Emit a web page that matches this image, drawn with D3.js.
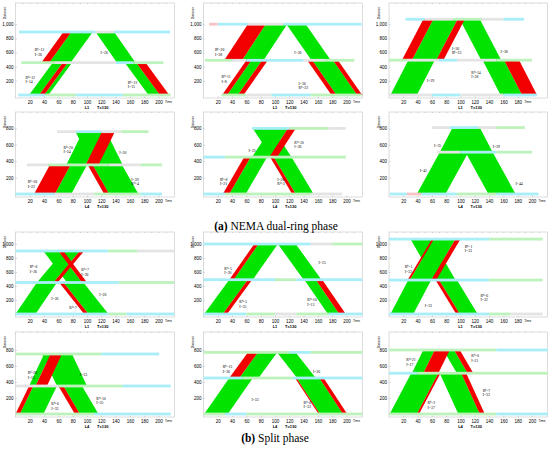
<!DOCTYPE html>
<html>
<head>
<meta charset="utf-8">
<script src="https://cdn.jsdelivr.net/npm/d3@7"></script>
<style>
  body { margin: 0; background: #fff; }
  svg { display: block; }
</style>
</head>
<body>
<svg id="fig" width="550" height="450"></svg>
<script>
// bands: [fromDist, toDist, startTime, endTime, travelTime, colour]  (m, s)
var bandsP1 = [[0,457,19,33,33,"g"],[0,457,33,40,33,"r"],[0,457,40,46,33,"g"],[457,890,36,47,31,"r"],[457,890,47,77,31,"g"],[890,457,112,138,30,"g"],[457,0,153,169,33,"g"],[457,0,169,182,33,"r"]];
var bandsP2 = [[0,490,26,33,34,"r"],[0,490,33,48,34,"g"],[0,490,48,56,34,"r"],[490,1000,29,54,33,"r"],[490,1000,54,84,33,"g"],[1000,490,116,143,35,"g"],[490,0,145,152,34,"r"],[490,0,152,181,34,"g"],[490,0,181,188,34,"r"]];
var bandsP3 = [[0,492,2,39,25,"g"],[492,1070,18,32,30,"r"],[492,1070,32,66,30,"g"],[492,1070,66,76,30,"r"],[1070,492,99,127,30,"g"],[492,0,131,161,25,"g"],[492,0,161,182,25,"r"]];
var bandsP4 = [[0,355,26,55,22,"r"],[0,355,55,78,22,"g"],[355,760,71,98,23,"g"],[355,760,98,116,23,"r"],[760,355,84,127,23,"g"],[355,0,101,108,23,"r"],[355,0,108,149,23,"g"]];
var bandsP5 = [[0,450,27,36,30,"r"],[0,450,36,59,30,"g"],[450,0,93,98,31,"r"],[450,0,98,123,31,"g"],[450,800,68,92,26,"g"],[450,800,92,103,26,"r"],[800,450,69,97,26,"g"]];
var bandsP6 = [[0,510,39,79,32,"g"],[510,810,71,111,18,"g"],[810,510,89,127,18,"g"],[510,0,107,145,32,"g"]];
var bandsP7 = [[0,450,0,28,30,"g"],[450,900,30,53,37,"g"],[450,900,53,59,37,"r"],[900,450,39,60,33,"g"],[900,450,60,67,33,"r"],[450,0,61,67,35,"r"],[450,0,67,95,35,"g"]];
var bandsP8 = [[0,490,1,27,35,"g"],[0,490,27,33,35,"r"],[490,1000,36,42,35,"r"],[490,1000,42,69,35,"g"],[1000,490,104,129,36,"g"],[490,0,141,157,33,"g"],[490,0,157,166,33,"r"]];
var bandsP9 = [[0,485,2,34,25,"g"],[485,1070,26,29,34,"r"],[485,1070,29,59,34,"g"],[485,1070,59,66,34,"r"],[1070,485,30,60,33,"g"],[485,0,65,70,29,"r"],[485,0,70,95,29,"g"]];
var bandsP10 = [[0,350,0,6,19,"r"],[0,350,6,39,19,"g"],[350,750,19,28,21,"g"],[350,750,28,44,21,"r"],[750,350,37,79,21,"g"],[350,0,60,67,23,"r"],[350,0,67,93,23,"g"]];
var bandsP11 = [[450,770,36,50,26,"r"],[450,770,50,77,26,"g"],[770,450,103,129,28,"g"],[0,450,1,34,35,"g"],[450,0,128,130,33,"r"],[450,0,130,162,33,"g"],[450,0,162,168,33,"r"]];
var bandsP12 = [[0,510,1,39,30,"g"],[0,510,39,42,30,"r"],[510,800,32,48,16,"g"],[510,800,48,69,16,"r"],[800,510,76,91,19,"g"],[800,510,91,99,19,"r"],[510,0,71,101,26,"g"],[510,0,101,108,26,"r"]];

// signal strips at each intersection: [dist, fromTime, toTime, colour]
var stripsP1 = [[890,5,112,"c"],[890,112,138,"l"],[890,138,216,"c"],[457,8,55,"g"],[457,55,140,"l"],[457,140,165,"c"],[457,165,207,"g"],[0,4,42,"c"],[0,42,85,"g"],[0,85,150,"c"],[0,150,217,"g"]];
var stripsP2 = [[1000,8,20,"p"],[1000,20,62,"c"],[1000,62,112,"l"],[1000,112,221,"c"],[490,2,40,"g"],[490,40,60,"l"],[490,60,140,"c"],[490,140,170,"l"],[490,170,211,"g"],[0,25,60,"g"],[0,60,95,"l"],[0,95,150,"c"],[0,150,221,"g"]];
var stripsP3 = [[1070,23,50,"c"],[1070,50,90,"l"],[1070,90,130,"g"],[1070,130,160,"l"],[1070,160,189,"c"],[492,0,25,"g"],[492,25,70,"l"],[492,70,95,"c"],[492,95,150,"l"],[492,150,200,"g"],[0,0,60,"l"],[0,60,100,"c"],[0,100,160,"l"],[0,160,207,"c"]];
var stripsP4 = [[760,58,85,"l"],[760,85,120,"c"],[760,120,148,"l"],[760,148,186,"g"],[355,16,45,"l"],[355,45,130,"g"],[355,130,175,"l"],[355,175,205,"g"],[0,0,55,"c"],[0,55,110,"l"],[0,110,175,"g"],[0,175,205,"c"]];
var stripsP5 = [[800,68,120,"c"],[800,120,175,"g"],[800,175,199,"l"],[450,0,30,"c"],[450,30,199,"g"],[0,0,30,"c"],[0,30,150,"g"],[0,150,194,"l"]];
var stripsP6 = [[810,60,85,"l"],[810,85,125,"c"],[810,125,150,"l"],[810,150,190,"g"],[510,67,100,"l"],[510,100,150,"c"],[510,150,200,"g"],[0,1,25,"c"],[0,25,45,"p"],[0,45,95,"c"],[0,95,150,"g"],[0,150,209,"c"]];
var stripsP7 = [[900,0,130,"c"],[900,130,170,"g"],[900,170,222,"l"],[450,0,145,"c"],[450,145,222,"g"],[0,0,130,"c"],[0,130,155,"g"],[0,155,222,"c"]];
var stripsP8 = [[1000,0,150,"c"],[1000,150,180,"l"],[1000,180,222,"g"],[490,0,100,"c"],[490,100,130,"g"],[490,130,222,"c"],[0,0,60,"c"],[0,60,100,"g"],[0,100,130,"l"],[0,130,175,"g"],[0,175,222,"c"]];
var stripsP9 = [[1070,0,140,"c"],[1070,140,215,"g"],[485,0,140,"c"],[485,140,215,"g"],[0,0,140,"c"],[0,140,170,"g"],[0,170,215,"l"]];
var stripsP10 = [[750,0,120,"g"],[750,120,201,"c"],[350,0,60,"l"],[350,60,150,"g"],[350,150,217,"c"],[0,0,110,"g"],[0,110,217,"c"]];
var stripsP11 = [[770,0,120,"g"],[770,120,150,"c"],[770,150,222,"g"],[450,0,55,"c"],[450,55,125,"g"],[450,125,222,"c"],[0,0,30,"g"],[0,30,60,"c"],[0,60,222,"g"]];
var stripsP12 = [[800,0,150,"g"],[800,150,222,"c"],[510,0,40,"c"],[510,40,222,"g"],[0,0,150,"g"],[0,150,222,"c"]];

// annotations: [time, dist, line1, line2]
var notesP1 = [[27,606,"R⁰=13","I=26"],[14,220,"R⁰=12","I=14"],[119,592,"I=26",""],[157,150,"R⁰=13","I=15"]];
var notesP2 = [[16,605,"R⁰=26","I=38"],[25,225,"R⁰=11","I=8"],[127,600,"I=26",""],[133,130,"I=36","R⁰=22"]];
var notesP3 = [[88,626,"I=36","R⁰=23"],[156,616,"I=38",""],[115,285,"R⁰=14","I=38"],[53,200,"I=39",""]];
var notesP4 = [[67,540,"R⁰=20","I=24"],[17,120,"R⁰=30","I=22"],[145,500,"I=30",""],[162,150,"I=39","R⁰=4"]];
var notesP5 = [[63,534,"I=23",""],[127,600,"R⁰=10","I=26"],[23,150,"R⁰=8","I=21"],[103,150,"I=26","R⁰=3"]];
var notesP6 = [[63,595,"I=35",""],[145,575,"I=39",""],[43,290,"I=41",""],[177,130,"I=44",""]];
var notesP7 = [[20,640,"R⁰=6","I=26"],[92,600,"R⁰=7","I=26"],[50,214,"I=26",""],[117,270,"I=26",""],[75,90,"R⁰=7",""]];
var notesP8 = [[29,620,"R⁰=5","I=20"],[161,730,"I=25",""],[50,140,"R⁰=5","I=25"],[145,170,"R⁰=10","I=13"]];
var notesP9 = [[106,930,"R⁰=1","I=33"],[22,640,"R⁰=1","I=32"],[128,230,"R⁰=6","I=32"],[50,118,"I=33",""]];
var notesP10 = [[17,486,"R⁰=20","I=15"],[90,486,"I=33",""],[50,100,"R⁰=6","I=33"],[113,170,"R⁰=10","I=25"]];
var notesP11 = [[27,560,"R⁰=13","I=26"],[153,530,"I=26",""],[67,178,"I=33",""],[140,120,"R⁰=6","I=33"]];
var notesP12 = [[24,650,"R⁰=21","I=17"],[115,700,"R⁰=0","I=21"],[131,270,"R⁰=7","I=33"],[54,110,"R⁰=2","I=37"]];

var xTicksFull = [20,40,60,80,100,120,140,160,180,200];
var xTicksShort = [20,40,60,80,100,120,140,160,180];
var yTicksTall = [200,400,600,800,1000];
var yTicksLow = [200,400,600,800];
var linkNames = ["L1","L4","L1","L4"];
var cycleLabel = "T=130";

var bandColor = { g: "#00e400", r: "#f20000" };
var stripColor = { c: "#a8eef8", g: "#bdf2bd", l: "#e4e4e4", p: "#f5c4c4" };

var panels = [
  [bandsP1, stripsP1, notesP1], [bandsP2, stripsP2, notesP2], [bandsP3, stripsP3, notesP3],
  [bandsP4, stripsP4, notesP4], [bandsP5, stripsP5, notesP5], [bandsP6, stripsP6, notesP6],
  [bandsP7, stripsP7, notesP7], [bandsP8, stripsP8, notesP8], [bandsP9, stripsP9, notesP9],
  [bandsP10, stripsP10, notesP10], [bandsP11, stripsP11, notesP11], [bandsP12, stripsP12, notesP12]
];

// layout of the 4x3 grid
var colX = [15.5, 203.5, 389];
var rowBox = [
  { zero: 95, top: 3, k: 0.0708 },
  { zero: 194, top: 112, k: 0.082 },
  { zero: 314, top: 232, k: 0.07 },
  { zero: 414, top: 332, k: 0.08 }
];
var secPx = 0.715;
var tMax = 222;

var svg = d3.select("#fig");

function drawPanel(p, i) {
  var row = Math.floor(i / 3), col = i % 3;
  var box = rowBox[row], x0 = colX[col];
  var x = d3.scaleLinear().domain([0, tMax]).range([x0, x0 + tMax * secPx]);
  var y = d3.scaleLinear()
            .domain([-3 / box.k, (box.zero - box.top) / box.k])
            .range([box.zero + 3, box.top]);
  var g = svg.append("g").attr("class", "panel");

  // frame
  g.append("rect")
    .attr("x", x0).attr("y", box.top)
    .attr("width", tMax * secPx).attr("height", box.zero + 3 - box.top)
    .attr("fill", "none").attr("stroke", "#b8b8b8").attr("stroke-width", 0.5);

  var xt = (col == 2 && row % 2 == 0) ? xTicksShort : xTicksFull;
  var yt = row % 2 == 0 ? yTicksTall : yTicksLow;

  var ax = g.append("g")
    .attr("transform", "translate(0," + (box.zero + 3) + ")")
    .call(d3.axisBottom(x).tickValues(xt).tickSize(-1.5).tickPadding(2.5));
  var ay = g.append("g")
    .attr("transform", "translate(" + x0 + ",0)")
    .call(d3.axisLeft(y).tickValues(yt).tickSize(-1.5).tickPadding(2));
  g.append("g")
    .attr("transform", "translate(0," + box.top + ")")
    .call(d3.axisTop(x).tickValues(d3.range(10, 220, 10)).tickSize(-1).tickFormat(""));
  [ax, ay].forEach(a => a.attr("font-size", 4.5).attr("font-family", "Liberation Sans, Arial, sans-serif"));
  g.selectAll(".domain").remove();
  g.selectAll(".tick line").attr("stroke", "#999").attr("stroke-width", 0.4);

  // axis titles
  g.append("text")
    .attr("transform", "translate(" + (x0 - 9.5) + "," + (box.top + 10) + ") rotate(-90)")
    .attr("text-anchor", "middle").attr("font-size", 3.2)
    .attr("font-family", "Liberation Sans, sans-serif")
    .text("Distance");
  g.append("text")
    .attr("x", x(d3.max(xt) + 14)).attr("y", box.zero + 8.3)
    .attr("text-anchor", "middle").attr("font-size", 3.2)
    .attr("font-family", "Liberation Sans, sans-serif")
    .text("Time");
  g.append("text")
    .attr("x", x(100)).attr("y", box.zero + 13.5)
    .attr("text-anchor", "middle").attr("font-size", 4).attr("font-weight", "bold")
    .attr("font-family", "Liberation Sans, sans-serif")
    .text(linkNames[row]);
  g.append("text")
    .attr("x", x(122)).attr("y", box.zero + 13.5)
    .attr("text-anchor", "middle").attr("font-size", 4).attr("font-weight", "bold")
    .attr("font-family", "Liberation Sans, sans-serif")
    .text(cycleLabel);

  // green bands first, red bands on top
  var bands = p[0].slice().sort((a, b) => (a[5] == "r") - (b[5] == "r"));
  g.selectAll("polygon.band")
    .data(bands)
    .enter()
    .append("polygon")
      .classed("band", true)
      .attr("points", d => [
        [x(d[2]), y(d[0])], [x(d[3]), y(d[0])],
        [x(d[3] + d[4]), y(d[1])], [x(d[2] + d[4]), y(d[1])]
      ].join(" "))
      .attr("fill", d => bandColor[d[5]]);

  // signal strips
  g.selectAll("rect.strip")
    .data(p[1])
    .enter()
    .append("rect")
      .classed("strip", true)
      .attr("x", d => x(d[1]))
      .attr("width", d => x(d[2]) - x(d[1]))
      .attr("y", d => y(d[0]) - 1.4)
      .attr("height", 2.8)
      .attr("fill", d => stripColor[d[3]]);

  // annotations
  var notes = g.selectAll("text.note")
    .data(p[2])
    .enter()
    .append("text")
      .classed("note", true)
      .attr("font-size", 3.8)
      .attr("font-family", "Liberation Serif, serif")
      .attr("x", d => x(d[0]))
      .attr("y", d => y(d[1]) + (d[3] ? -0.8 : 1.3));
  notes.append("tspan").text(d => d[2]);
  notes.append("tspan")
    .attr("x", d => x(d[0])).attr("dy", 4.3)
    .text(d => d[3]);
}

panels.forEach(drawPanel);

// sub-figure captions
function caption(letter, label, cx, cy) {
  var t = svg.append("text")
    .attr("x", cx).attr("y", cy)
    .attr("text-anchor", "middle")
    .attr("font-size", 11.5)
    .attr("font-family", "Liberation Serif, serif");
  t.append("tspan").attr("font-weight", "bold").text("(" + letter + ")");
  t.append("tspan").text(" " + label);
}
caption("a", "NEMA dual-ring phase", 276, 229.5);
caption("b", "Split phase", 275, 442);
</script>
</body>
</html>
